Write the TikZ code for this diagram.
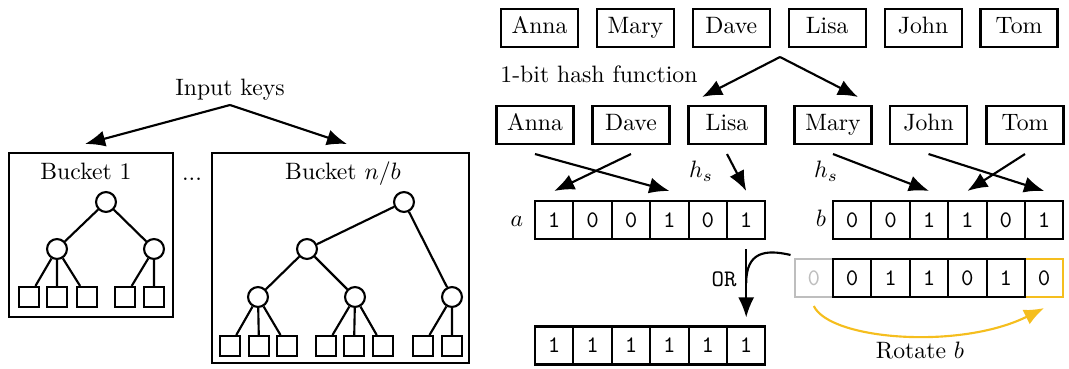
\documentclass[tikz,border=0pt]{standalone}
\usetikzlibrary{arrows.meta}
\definecolor{yel}{RGB}{245,190,30}
\definecolor{lgray}{RGB}{190,190,190}
\newcommand{\pxu}{0.4219pt}
\begin{document}
\begin{tikzpicture}[x=0.4219pt, y=-0.4219pt,
  every path/.style={line width=0.9pt},
  arr/.style={line width=0.9pt, -{Latex[length=8.5pt,width=6.8pt]}},
  keybox/.style={draw, line width=0.9pt, minimum width=32.5pt, minimum height=16pt, inner sep=0pt, text height=7pt, text depth=2pt},
  bitcell/.style={draw, line width=0.9pt, minimum width=16.2pt, minimum height=16pt, inner sep=0pt, font=\ttfamily},
  innode/.style={draw, line width=0.9pt, circle, minimum size=8.4pt, inner sep=0pt},
  leafnode/.style={draw, line width=0.9pt, rectangle, minimum size=8.4pt, inner sep=0pt},
  treeedge/.style={line width=0.9pt},
  lbl/.style={anchor=base, inner sep=0pt}]
\useasboundingbox (0,0) rectangle (1069,369);

% ---------------- left part ----------------
\node[lbl] (inkeys) at (230,96) {Input keys};
\coordinate (inapex) at (230,105);
\coordinate (intipA) at (85,144);
\coordinate (intipB) at (347,144);
\draw[arr] (inapex) -- (intipA);
\draw[arr] (inapex) -- (intipB);

\node[draw, line width=0.9pt, minimum width=69.2pt, minimum height=69.2pt, inner sep=0pt] (bk1) at (91,235) {};
\node[draw, line width=0.9pt, minimum width=108.4pt, minimum height=88.6pt, inner sep=0pt] (bkn) at (340.5,258) {};
\node[lbl] (bk1lbl) at (86,180) {Bucket 1};
\node[lbl] (bknlbl) at (343,180) {Bucket $n/b$};
\node[lbl] (dots) at (192,181) {...};

% tree 1
\node[innode] (p1r) at (106,202) {};
\node[innode] (p1a) at (57,249) {};
\node[innode] (p1b) at (154,249) {};
\foreach \x [count=\i] in {29,57,87,125,154} \node[leafnode] (q\i) at (\x,297) {};
\draw[treeedge] (p1r) -- (p1a) (p1r) -- (p1b)
  (p1a) -- (q1) (p1a) -- (q2) (p1a) -- (q3) (p1b) -- (q4) (p1b) -- (q5);

% tree 2
\node[innode] (p2r) at (404,202) {};
\node[innode] (p2a) at (307,249) {};
\node[innode] (p2b) at (258,297) {};
\node[innode] (p2c) at (355,297) {};
\node[innode] (p2d) at (452,297) {};
\foreach \x [count=\i] in {230,259,287,326,354,383,423,452} \node[leafnode] (s\i) at (\x,346) {};
\draw[treeedge] (p2r) -- (p2a) (p2r) -- (p2d) (p2a) -- (p2b) (p2a) -- (p2c)
  (p2b) -- (s1) (p2b) -- (s2) (p2b) -- (s3)
  (p2c) -- (s4) (p2c) -- (s5) (p2c) -- (s6)
  (p2d) -- (s7) (p2d) -- (s8);

% ---------------- right part ----------------
\foreach \t [count=\i] in {Anna,Mary,Dave,Lisa,John,Tom}
  \node[keybox] (t\i) at ({539.5+(\i-1)*95.9},28) {\t};

\node[lbl] (hashlbl) at (599,83) {1-bit hash function};
\coordinate (hapex) at (780,57);
\coordinate (htipA) at (702,97);
\coordinate (htipB) at (858,97);
\draw[arr] (hapex) -- (htipA);
\draw[arr] (hapex) -- (htipB);

\node[keybox] (m1) at (535,125) {Anna};
\node[keybox] (m2) at (631,125) {Dave};
\node[keybox] (m3) at (727,125) {Lisa};
\node[keybox] (m4) at (833,125) {Mary};
\node[keybox] (m5) at (928.5,125) {John};
\node[keybox] (m6) at (1025,125) {Tom};

% bit arrays
\foreach \v [count=\i] in {1,0,0,1,0,1}
  \node[bitcell] (a\i) at ({535+(\i-0.5)*38.4},220) {\v};
\foreach \v [count=\i] in {0,0,1,1,0,1}
  \node[bitcell] (b\i) at ({833+(\i-0.5)*38.4},220) {\v};
\node[lbl] (alab) at (517,226) {$a$};
\node[lbl] (blab) at (821,226) {$b$};
\node[lbl] (hs1) at (701,178) {$h_s$};
\node[lbl] (hs2) at (826,178) {$h_s$};

\draw[arr] ([yshift=-9*\pxu]m1.south) -- ([yshift=9*\pxu]a4.north);
\draw[arr] ([yshift=-9*\pxu]m2.south) -- ([yshift=9*\pxu]a1.north);
\draw[arr] ([yshift=-9*\pxu]m3.south) -- ([yshift=9*\pxu]a6.north);
\draw[arr] ([yshift=-9*\pxu]m4.south) -- ([yshift=9*\pxu]b3.north);
\draw[arr] ([yshift=-9*\pxu]m5.south) -- ([yshift=9*\pxu]b6.north);
\draw[arr] ([yshift=-9*\pxu]m6.south) -- ([yshift=9*\pxu]b4.north);

% rotated b
\node[bitcell, draw=lgray, text=lgray] (r0) at ({833-19.2},278) {0};
\node[bitcell, draw=yel] (r6) at ({833+5.5*38.4},278) {0};
\foreach \v [count=\i] in {0,1,1,0,1}
  \node[bitcell] (r\i) at ({833+(\i-0.5)*38.4},278) {\v};

% result
\foreach \v [count=\i] in {1,1,1,1,1,1}
  \node[bitcell] (res\i) at ({535+(\i-0.5)*38.4},345.5) {\v};

% OR arrow
\draw[arr] ([yshift=-9*\pxu]a6.south) -- ([yshift=8*\pxu]res6.north);
\path (a6.south) ++(0,43) coordinate (orjoin);
\path (r0.north west) ++(-3,-3) coordinate (rotstart);
\draw[line width=0.9pt] (rotstart) .. controls (765,249) and (746.2,252) .. (orjoin);
\node[lbl, font=\ttfamily] (orlbl) at (724,286) {OR};

% rotate arrow
\draw[line width=0.9pt, yel, -{Latex[length=8.5pt,width=6.8pt]}] ([yshift=-8*\pxu]r0.south) .. controls (830,340) and (960,350) .. ([yshift=-10*\pxu]r6.south);
\node[lbl] (rotlbl) at (920,358) {Rotate $b$};
\end{tikzpicture}
\end{document}
